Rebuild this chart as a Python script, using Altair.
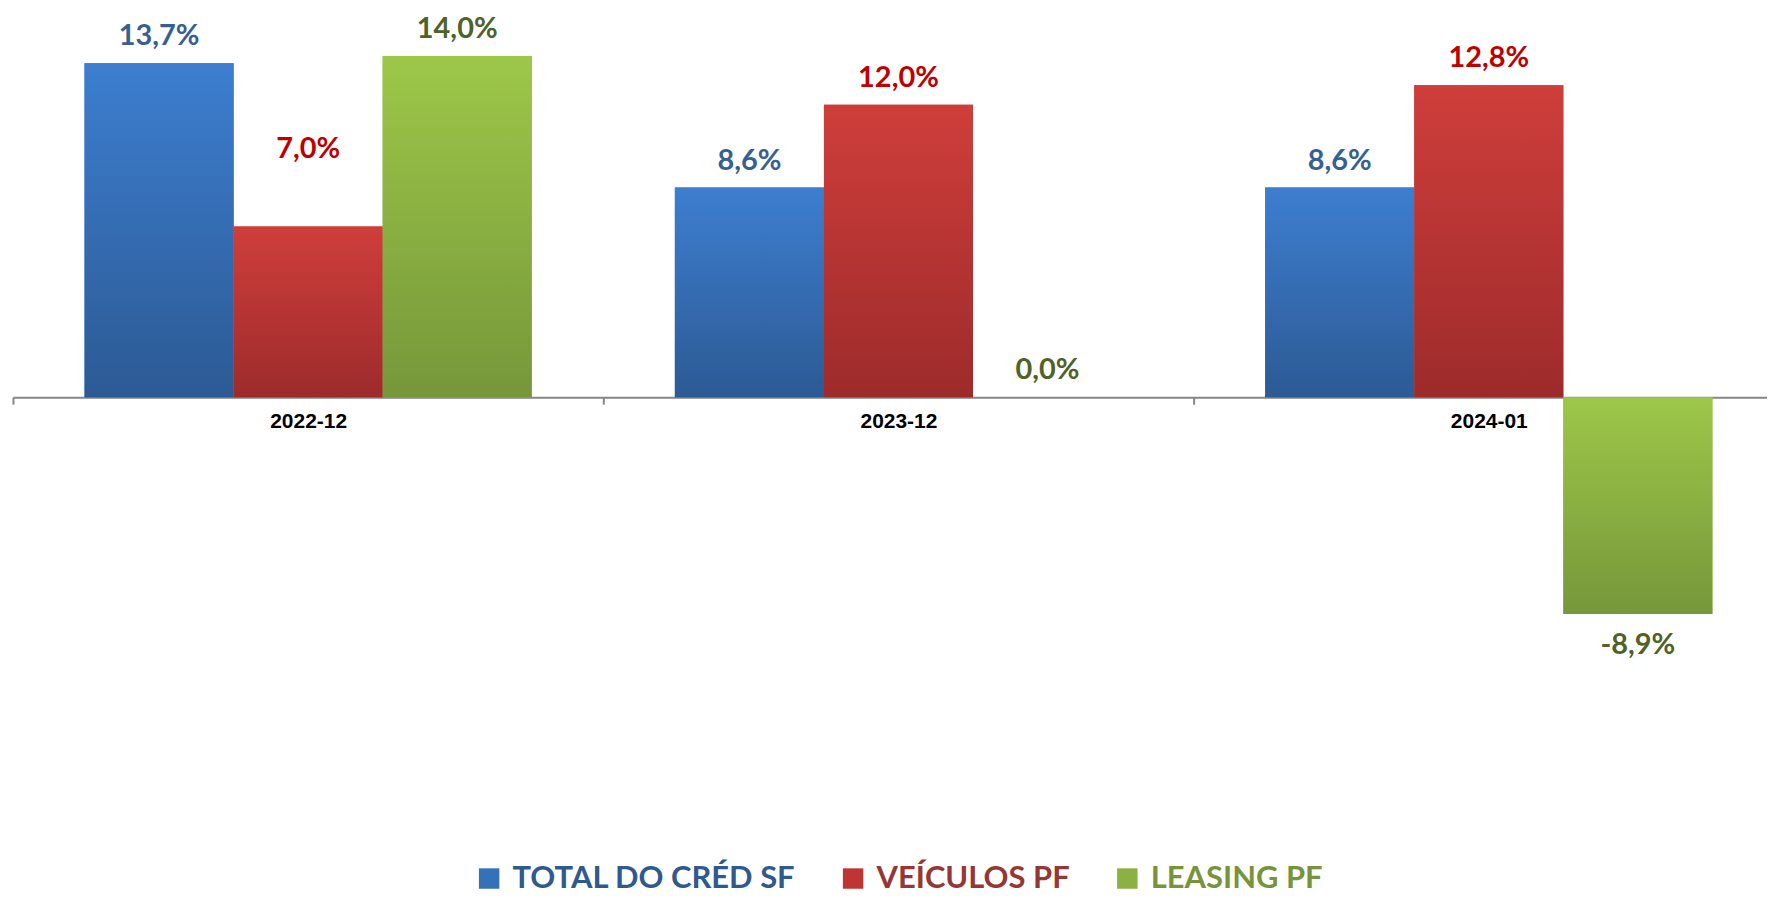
import altair as alt
import pandas as pd

# ---------------- data ----------------
periodos = ["2022-12", "2023-12", "2024-01"]
series = ["TOTAL DO CRÉD SF", "VEÍCULOS PF", "LEASING PF"]
total_cred_sf = [13.7, 8.6, 8.6]
veiculos_pf = [7.0, 12.0, 12.8]
leasing_pf = [14.0, 0.0, -8.9]

rows = []
for serie, vals in zip(series, [total_cred_sf, veiculos_pf, leasing_pf]):
    for p, v in zip(periodos, vals):
        rows.append({"periodo": p, "serie": serie, "valor": v})
df = pd.DataFrame(rows)

# ---------------- style ----------------
bar_top = ["#3D7ED0", "#CF3E3B", "#9DC749"]
bar_bottom = ["#2C5A94", "#9D2B2B", "#76973A"]
legend_fill = ["#3570BA", "#BE3634", "#8BB142"]
label_colors = ["#376092", "#C00000", "#4F6228"]
legend_text = ["#30598E", "#953735", "#77933C"]

PAD_LEFT = 5
W = 1759
STEP = 592
PAD_TOP = 6
H = 870
PX_PER_UNIT = 24.44
ZERO_FROM_TOP = 383.0
Y_MAX = ZERO_FROM_TOP / PX_PER_UNIT
Y_MIN = Y_MAX - H / PX_PER_UNIT
zero_px = ZERO_FROM_TOP
LABEL_GAP = 27
label_lift = {("2022-12", "VEÍCULOS PF"): 78}

base = alt.Chart(df).transform_calculate(
    rotulo="(datum.valor < 0 ? '-' : '') + replace(format(abs(datum.valor), '.1f'), '.', ',') + '%'"
)

x = alt.X(
    "periodo:N",
    sort=periodos,
    title=None,
    scale=alt.Scale(range=[0, STEP * len(periodos)], paddingInner=0, paddingOuter=0),
    axis=alt.Axis(
        orient="bottom",
        offset=zero_px - H,
        domainColor="#868686",
        domainWidth=2,
        tickColor="#868686",
        tickWidth=2,
        tickSize=7,
        tickBand="extent",
        labelFont="Liberation Sans",
        labelFontWeight="bold",
        labelFontSize=21,
        labelColor="#000000",
        labelPadding=6,
        labelAngle=0,
        grid=False,
    ),
)
xoff = alt.XOffset(
    "serie:N",
    sort=series,
    scale=alt.Scale(domain=series, paddingInner=0, paddingOuter=0.48),
)
y = alt.Y(
    "valor:Q",
    axis=None,
    scale=alt.Scale(domain=[Y_MIN, Y_MAX], nice=False, zero=True),
)

legend_color_expr = " : ".join(
    [f"datum.label === '{s}' ? '{c}'" for s, c in zip(series[:-1], legend_text[:-1])]
    + [f"'{legend_text[-1]}'"]
)

legend_layer = base.mark_bar().encode(
    x=x,
    xOffset=xoff,
    y=y,
    fill=alt.Fill(
        "serie:N",
        sort=series,
        scale=alt.Scale(domain=series, range=legend_fill),
        legend=alt.Legend(
            title=None,
            orient="none",
            legendX=462,
            legendY=850,
            direction="horizontal",
            symbolType="square",
            symbolSize=420,
            symbolStrokeWidth=0,
            labelFont="Lato",
            labelFontSize=31,
            labelFontWeight="bold",
            labelColor=alt.ExprRef(legend_color_expr),
            labelOffset=8,
            labelLimit=1000,
            columnPadding=42,
            padding=0,
        ),
    ),
)

layers = [legend_layer]
for s, top, bot in zip(series, bar_top, bar_bottom):
    grad = alt.Gradient(
        gradient="linear",
        stops=[alt.GradientStop(color=top, offset=0), alt.GradientStop(color=bot, offset=1)],
        x1=0, x2=0, y1=0, y2=1,
    )
    layers.append(
        base.transform_filter(alt.datum.serie == s)
        .mark_bar(fill=grad)
        .encode(x=x, xOffset=xoff, y=y)
    )

special_expr = " || ".join(
    [f"(datum.periodo === '{p}' && datum.serie === '{s}')" for (p, s) in label_lift]
) or "false"

text_color = alt.Color("serie:N", sort=series, scale=alt.Scale(domain=series, range=label_colors), legend=None)
text_props = dict(font="Lato", fontSize=29, fontWeight="bold", baseline="middle", align="center")

layers.append(
    base.transform_filter(f"datum.valor >= 0 && !({special_expr})")
    .mark_text(dy=-LABEL_GAP, **text_props)
    .encode(x=x, xOffset=xoff, y=y, text="rotulo:N", color=text_color)
)
layers.append(
    base.transform_filter("datum.valor < 0")
    .mark_text(dy=LABEL_GAP + 4, **text_props)
    .encode(x=x, xOffset=xoff, y=y, text="rotulo:N", color=text_color)
)
for (p, s), lift in label_lift.items():
    layers.append(
        base.transform_filter(f"datum.periodo === '{p}' && datum.serie === '{s}'")
        .mark_text(dy=-lift, **text_props)
        .encode(x=x, xOffset=xoff, y=y, text="rotulo:N", color=text_color)
    )

chart = (
    alt.layer(*layers)
    .properties(
        width=W,
        height=H,
        autosize=alt.AutoSizeParams(type="none"),
        padding={"left": PAD_LEFT, "top": PAD_TOP, "right": 0, "bottom": 12},
        background="#ffffff",
    )
    .configure_view(stroke=None)
)

chart.save("out.html", embed_options={"renderer": "svg", "actions": False})
